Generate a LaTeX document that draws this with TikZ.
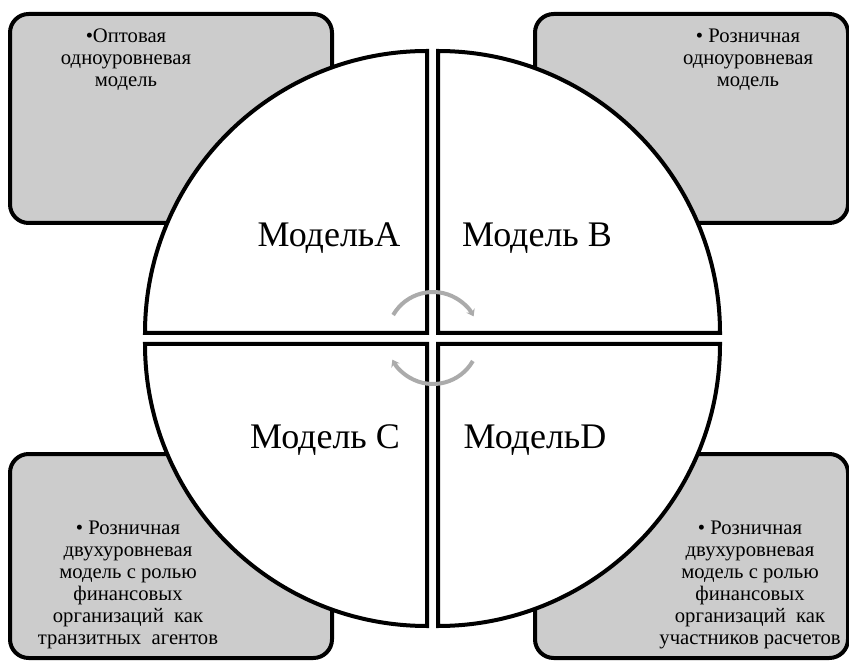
\documentclass[tikz,border=0pt]{standalone}
\usepackage{fontspec}
\setmainfont{Liberation Serif}
\usetikzlibrary{arrows.meta}
\tikzset{
    panel/.style = {draw = black, line width = 3pt, fill = black!20, rounded corners = 14pt},
    sector/.style = {draw = black, line width = 3pt, fill = white, line join = miter},
    modellabel/.style = {font = \fontsize{27}{32}\selectfont, inner sep = 0pt},
    note/.style = {font = \fontsize{15.5}{16.5}\selectfont, align = center, inner sep = 0pt},
    turn/.style = {draw = black!33, line width = 3pt, -{Stealth[length=5pt, width=7pt]}}
}
\begin{document}
\begin{tikzpicture}[x = 0.75pt, y = 0.75pt]
    \useasboundingbox (0,0) rectangle (849,661);
    % corner panels
    \draw[panel] (10,438) rectangle (332,647);
    \draw[panel] (535,438) rectangle (848,647);
    \draw[panel] (10,3) rectangle (332,207);
    \draw[panel] (535,3) rectangle (848,207);
    % four sectors of the circle
    \draw[sector] (427,328) -- ++(-282,0) arc[start angle = 180, end angle = 90, radius = 282] -- cycle;
    \draw[sector] (438,328) -- ++(0,282) arc[start angle = 90, end angle = 0, radius = 282] -- cycle;
    \draw[sector] (427,317) -- ++(-282,0) arc[start angle = 180, end angle = 270, radius = 282] -- cycle;
    \draw[sector] (438,317) -- ++(282,0) arc[start angle = 0, end angle = -90, radius = 282] -- cycle;
    % turning arrows
    \coordinate (hub) at (433,323);
    \draw[turn] ([shift = {(150:46)}]hub) arc[start angle = 150, end angle = 28, radius = 46];
    \draw[turn] ([shift = {(-30:46)}]hub) arc[start angle = -30, end angle = -152, radius = 46];
    % labels
    \node[modellabel] (moda) at (329,423) {МодельA};
    \node[modellabel] (modb) at (537,423) {Модель B};
    \node[modellabel] (modc) at (325,221) {Модель C};
    \node[modellabel] (modd) at (535,221) {МодельD};
    \node[note, anchor = north] (notea) at (126,632) {•Оптовая\\одноуровневая\\модель};
    \node[note, anchor = north] (noteb) at (748,632) {• Розничная\\одноуровневая\\модель};
    \node[note] (notec) at (128,76) {• Розничная\\двухуровневая\\модель с ролью\\финансовых\\организаций~~как\\транзитных~~агентов};
    \node[note] (noted) at (750,76) {• Розничная\\двухуровневая\\модель с ролью\\финансовых\\организаций~~как\\участников расчетов};
\end{tikzpicture}
\end{document}
